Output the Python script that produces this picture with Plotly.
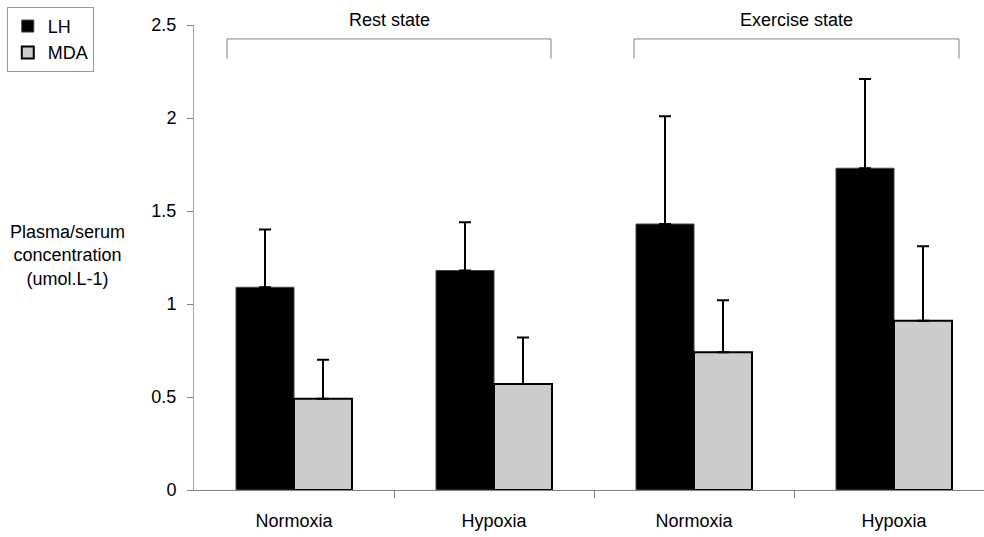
import plotly.graph_objects as go

# ---- data ----
categories = ["Normoxia", "Hypoxia", "Normoxia", "Hypoxia"]
lh_values = [1.09, 1.18, 1.43, 1.73]
lh_errors = [0.31, 0.26, 0.58, 0.48]
mda_values = [0.49, 0.57, 0.74, 0.91]
mda_errors = [0.21, 0.25, 0.28, 0.40]
y_ticks = [0, 0.5, 1, 1.5, 2, 2.5]
y_tick_text = ["0", "0.5", "1", "1.5", "2", "2.5"]
group_labels = ["Rest state", "Exercise state"]
group_spans = [(-0.335, 1.285), (1.70, 3.325)]

FONT = "Liberation Sans, Arial, sans-serif"
FS = 18
x_pos = list(range(len(categories)))
boundaries = [i + 0.5 for i in x_pos[:-1]]
x_range = [-0.5, 3.45]

fig = go.Figure()
fig.add_trace(go.Bar(
    x=x_pos, y=lh_values, name="LH",
    marker=dict(color="#000000", line=dict(color="#444444", width=1)),
    error_y=dict(type="data", array=lh_errors, arrayminus=[0] * len(lh_errors),
                 symmetric=False, color="#000000", thickness=2, width=6),
))
fig.add_trace(go.Bar(
    x=x_pos, y=mda_values, name="MDA",
    marker=dict(color="#cccccc", line=dict(color="#000000", width=2)),
    error_y=dict(type="data", array=mda_errors, arrayminus=[0] * len(mda_errors),
                 symmetric=False, color="#000000", thickness=2, width=6),
))

# brackets and group labels
for label, (x0, x1) in zip(group_labels, group_spans):
    fig.add_shape(type="path",
                  path=f"M {x0},2.32 L {x0},2.425 L {x1},2.425 L {x1},2.32",
                  xref="x", yref="y", line=dict(color="#808080", width=1))
    fig.add_annotation(x=(x0 + x1) / 2, y=1.0108, xref="x", yref="paper",
                       xanchor="center", yanchor="middle", text=label, showarrow=False,
                       font=dict(family=FONT, size=FS, color="#000000"))

# y-axis title (horizontal, multi-line)
fig.add_annotation(x=-0.1595, y=0.505, xref="paper", yref="paper",
                   xanchor="center", yanchor="middle",
                   text="Plasma/serum<br>concentration<br>(umol.L-1)",
                   showarrow=False, align="center",
                   font=dict(family=FONT, size=FS, color="#000000"))

fig.update_layout(
    width=984, height=537,
    margin=dict(l=194, r=0, t=25, b=47, autoexpand=False),
    paper_bgcolor="white", plot_bgcolor="white",
    barmode="group", bargap=0.42, bargroupgap=0,
    font=dict(family=FONT, size=FS, color="#000000"),
    showlegend=True,
    legend=dict(x=-0.237, y=1.039, xanchor="left", yanchor="top",
                bordercolor="#999999", borderwidth=1, bgcolor="white",
                itemwidth=30, tracegroupgap=0,
                font=dict(family=FONT, size=FS, color="#000000")),
    xaxis=dict(range=x_range, tickmode="array", tickvals=x_pos, ticktext=categories,
               ticks="", showgrid=False, zeroline=False, showline=True,
               linecolor="#808080", linewidth=1, ticklabelstandoff=14,
               tickfont=dict(family=FONT, size=FS),
               minor=dict(tickmode="array", tickvals=boundaries, ticks="outside",
                          ticklen=7, tickcolor="#808080", tickwidth=1, showgrid=False)),
    xaxis2=dict(range=x_range, overlaying="x", anchor="y", tickmode="array",
                tickvals=boundaries, ticks="inside", ticklen=7, tickcolor="#808080",
                showticklabels=False, showgrid=False, zeroline=False, showline=False),
    yaxis=dict(range=[0, 2.5], tickmode="array", tickvals=y_ticks, ticktext=y_tick_text,
               ticks="outside", ticklen=6, tickcolor="#808080", tickwidth=1,
               showgrid=False, zeroline=False, showline=True, linecolor="#a0a0a0",
               linewidth=1, ticklabelstandoff=7, tickfont=dict(family=FONT, size=FS)),
    yaxis2=dict(range=[0, 2.5], overlaying="y", anchor="x", side="left",
                tickmode="array", tickvals=y_ticks, ticks="inside", ticklen=5,
                tickcolor="#808080", showticklabels=False, showgrid=False,
                zeroline=False, showline=False),
)

fig.write_html("out.html")
